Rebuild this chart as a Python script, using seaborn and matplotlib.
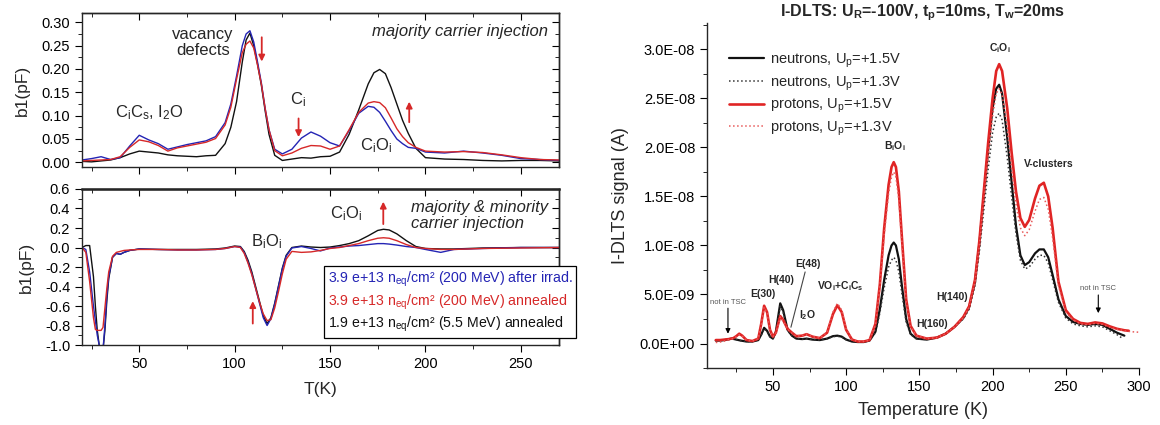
import pandas as pd
import seaborn as sns
import matplotlib.pyplot as plt
from matplotlib.lines import Line2D
from matplotlib.ticker import MultipleLocator, FuncFormatter

# ---------------- left: TSC spectra, top = majority carrier injection ----------------
t_top = [20, 25, 30, 35, 40, 45, 50, 55, 60, 65, 70, 75, 80, 85, 90, 95, 98, 101, 104, 106,
         108, 110, 112, 114, 116, 118, 121, 125, 130, 135, 140, 145, 150, 155, 160, 165, 170,
         173, 176, 179, 182, 185, 188, 191, 195, 200, 210, 220, 230, 240, 250, 260, 270]
top_after = [0.005, 0.008, 0.012, 0.006, 0.010, 0.035, 0.058, 0.048, 0.040, 0.028, 0.033, 0.038,
             0.042, 0.046, 0.055, 0.085, 0.125, 0.185, 0.250, 0.275, 0.282, 0.258, 0.215, 0.170,
             0.115, 0.070, 0.028, 0.018, 0.028, 0.052, 0.065, 0.056, 0.042, 0.035, 0.068, 0.105,
             0.120, 0.118, 0.107, 0.088, 0.068, 0.050, 0.040, 0.032, 0.030, 0.022, 0.020, 0.024,
             0.020, 0.015, 0.008, 0.006, 0.004]
top_ann200 = [0.003, 0.004, 0.005, 0.006, 0.012, 0.032, 0.048, 0.044, 0.036, 0.024, 0.031, 0.035,
              0.039, 0.043, 0.051, 0.080, 0.118, 0.178, 0.235, 0.253, 0.260, 0.245, 0.208, 0.168,
              0.115, 0.070, 0.025, 0.014, 0.020, 0.030, 0.036, 0.035, 0.028, 0.035, 0.070, 0.107,
              0.127, 0.130, 0.128, 0.117, 0.095, 0.072, 0.055, 0.042, 0.032, 0.024, 0.022, 0.023,
              0.021, 0.016, 0.010, 0.006, 0.005]
top_ann55 = [0.002, 0.001, 0.003, 0.005, 0.010, 0.018, 0.024, 0.022, 0.020, 0.016, 0.014, 0.013,
             0.012, 0.014, 0.015, 0.040, 0.075, 0.130, 0.215, 0.262, 0.277, 0.250, 0.210, 0.165,
             0.110, 0.060, 0.015, 0.004, 0.007, 0.010, 0.009, 0.012, 0.013, 0.022, 0.060, 0.112,
             0.168, 0.192, 0.199, 0.190, 0.160, 0.125, 0.090, 0.062, 0.030, 0.010, 0.007, 0.006,
             0.004, 0.003, 0.004, 0.004, 0.003]

# ---------------- left bottom: majority & minority carrier injection ----------------
t_bot = [20, 22, 24, 26, 27, 28, 29, 30, 31, 32, 33, 34, 36, 38, 40, 42, 45, 50, 60, 70, 80,
         90, 95, 100, 103, 105, 107, 109, 111, 113, 115, 117, 119, 121, 123, 125, 127, 130, 135,
         140, 145, 150, 155, 160, 165, 170, 175, 178, 181, 185, 190, 195, 200, 208, 215, 230,
         250, 270]
bot_after = [0.0, -0.02, -0.25, -0.6, -0.75, -0.9, -1.0, -1.05, -1.05, -0.8, -0.5, -0.3, -0.10,
             -0.06, -0.07, -0.05, -0.03, -0.015, -0.02, -0.025, -0.025, -0.02, -0.01, 0.01, 0.005,
             -0.05, -0.15, -0.27, -0.42, -0.57, -0.72, -0.80, -0.73, -0.58, -0.40, -0.22, -0.09,
             -0.005, 0.01, -0.01, -0.035, -0.005, 0.005, 0.015, 0.02, 0.03, 0.04, 0.04, 0.035,
             0.025, 0.01, 0.0, -0.02, -0.05, -0.02, -0.01, 0.0, 0.0]
bot_ann200 = [0.0, -0.05, -0.35, -0.72, -0.84, -0.85, -0.85, -0.85, -0.82, -0.62, -0.42, -0.25,
              -0.09, -0.05, -0.04, -0.03, -0.025, -0.02, -0.02, -0.025, -0.025, -0.02, -0.01, 0.01,
              0.0, -0.06, -0.16, -0.28, -0.42, -0.56, -0.68, -0.75, -0.74, -0.62, -0.45, -0.27,
              -0.12, -0.04, -0.05, -0.045, -0.03, -0.01, 0.0, 0.02, 0.04, 0.07, 0.095, 0.1, 0.095,
              0.07, 0.03, 0.0, -0.01, -0.02, -0.02, -0.01, -0.005, 0.0]
bot_ann55 = [0.0, 0.02, 0.02, -0.3, -0.6, -0.85, -1.0, -1.05, -1.05, -0.85, -0.55, -0.32, -0.1,
             -0.06, -0.07, -0.05, -0.03, -0.015, -0.02, -0.02, -0.02, -0.015, -0.005, 0.015, 0.01,
             -0.04, -0.13, -0.25, -0.40, -0.55, -0.70, -0.78, -0.72, -0.57, -0.39, -0.21, -0.08,
             0.0, 0.015, 0.005, 0.0, 0.005, 0.02, 0.04, 0.07, 0.12, 0.175, 0.187, 0.18, 0.14, 0.07,
             0.01, -0.01, -0.015, -0.015, -0.005, 0.0, 0.0]

legend_left = ["3.9 e+13 n$_{eq}$/cm² (200 MeV) after irrad.",
               "3.9 e+13 n$_{eq}$/cm² (200 MeV) annealed",
               "1.9 e+13 n$_{eq}$/cm² (5.5 MeV) annealed"]

# ---------------- right: I-DLTS, (T [K], signal [1e-9 A]) ----------------
neutrons_15 = [(11, 0.3), (14, 0.3), (17, 0.35), (20, 0.45), (22, 0.5), (25, 0.4), (28, 0.3),
               (32, 0.2), (36, 0.2), (40, 0.35), (42, 0.9), (44, 1.6), (46, 1.3), (48, 0.7),
               (50, 0.5), (52, 1.2), (55, 4.1), (57, 3.4), (60, 1.4), (63, 0.8), (66, 0.5),
               (70, 0.45), (73, 0.5), (77, 0.4), (82, 0.35), (87, 0.5), (91, 0.75), (94, 0.8),
               (97, 0.7), (100, 0.4), (104, 0.2), (108, 0.15), (112, 0.15), (116, 0.3), (120, 1.2),
               (123, 3.5), (126, 6.5), (129, 9.0), (131, 10.0), (132.5, 10.3), (134, 10.0),
               (136, 8.6), (138, 6.0), (141, 2.5), (144, 1.0), (148, 0.5), (155, 0.4), (162, 0.6),
               (168, 1.0), (174, 1.7), (180, 2.6), (184, 3.7), (188, 6.3), (191, 10.2),
               (194, 15.0), (197, 19.8), (200, 24.0), (202.5, 26.0), (204.5, 26.4), (206.5, 25.5),
               (210, 21.0), (213, 16.5), (216, 12.0), (219, 9.0), (222, 8.0), (225, 8.3),
               (229, 9.2), (232, 9.6), (235, 9.6), (238, 8.8), (241, 7.0), (245, 4.5), (250, 2.8),
               (255, 2.2), (260, 2.0), (265, 1.9), (270, 2.0), (275, 1.9), (280, 1.5), (285, 1.1),
               (290, 0.8)]
neutrons_13 = [(11, 0.25), (14, 0.3), (17, 0.35), (20, 0.4), (22, 0.45), (25, 0.4), (28, 0.3),
               (32, 0.2), (36, 0.2), (40, 0.35), (42, 0.85), (44, 1.5), (46, 1.2), (48, 0.7),
               (50, 0.5), (52, 1.1), (55, 3.8), (57, 3.2), (60, 1.3), (63, 0.8), (66, 0.5),
               (70, 0.45), (73, 0.5), (77, 0.4), (82, 0.35), (87, 0.5), (91, 0.7), (94, 0.75),
               (97, 0.65), (100, 0.4), (104, 0.2), (108, 0.15), (112, 0.15), (116, 0.3), (120, 1.1),
               (123, 3.1), (126, 5.7), (129, 7.8), (131, 8.5), (132.5, 8.8), (134, 8.5),
               (136, 7.3), (138, 5.2), (141, 2.2), (144, 0.9), (148, 0.5), (155, 0.4), (162, 0.6),
               (168, 1.0), (174, 1.7), (180, 2.5), (184, 3.5), (188, 5.9), (191, 9.4), (194, 13.6),
               (197, 17.8), (200, 21.5), (202.5, 23.1), (204.5, 23.5), (206.5, 22.8), (210, 19.0),
               (213, 15.0), (216, 11.2), (219, 8.5), (222, 7.6), (225, 7.8), (229, 8.6), (232, 9.0),
               (235, 9.0), (238, 8.2), (241, 6.5), (245, 4.2), (250, 2.6), (255, 2.0), (260, 1.8),
               (265, 1.7), (270, 1.8), (275, 1.7), (280, 1.3), (285, 0.9), (288, 0.6)]
protons_15 = [(11, 0.35), (14, 0.35), (17, 0.4), (20, 0.45), (23, 0.55), (25, 0.75), (27, 1.0),
              (29, 0.8), (32, 0.35), (36, 0.25), (40, 0.5), (42, 2.0), (44, 3.85), (46, 3.2),
              (48, 1.4), (50, 0.7), (52, 1.1), (55, 2.8), (57, 2.4), (60, 1.5), (63, 1.1),
              (66, 0.75), (70, 0.8), (73, 0.95), (77, 0.7), (82, 0.55), (87, 1.1), (91, 3.0),
              (94, 3.9), (97, 3.2), (100, 1.4), (104, 0.4), (108, 0.2), (112, 0.2), (116, 0.35),
              (120, 2.0), (123, 6.0), (126, 11.8), (129, 16.2), (131, 18.0), (132.5, 18.5),
              (134, 18.0), (136, 15.5), (138, 11.0), (141, 4.5), (144, 1.8), (148, 0.8), (155, 0.5),
              (162, 0.6), (168, 1.0), (174, 1.7), (180, 2.7), (184, 3.8), (188, 6.5), (191, 10.5),
              (194, 15.5), (197, 20.5), (200, 25.0), (202.5, 27.8), (204.5, 28.5), (206.5, 27.8),
              (210, 24.0), (213, 19.5), (216, 15.5), (219, 12.8), (222, 11.9), (225, 12.6),
              (229, 14.8), (232, 16.1), (235, 16.4), (238, 15.0), (241, 11.8), (245, 6.3),
              (250, 3.4), (255, 2.5), (260, 2.1), (265, 2.0), (270, 2.15), (275, 2.05), (280, 1.75),
              (285, 1.5), (290, 1.35), (293, 1.3)]
protons_13 = [(11, 0.1), (14, 0.15), (17, 0.25), (20, 0.4), (23, 0.5), (25, 0.7), (27, 0.9),
              (29, 0.75), (32, 0.35), (36, 0.25), (40, 0.5), (42, 1.9), (44, 3.7), (46, 3.1),
              (48, 1.4), (50, 0.7), (52, 1.05), (55, 2.7), (57, 2.3), (60, 1.45), (63, 1.05),
              (66, 0.75), (70, 0.8), (73, 0.95), (77, 0.7), (82, 0.55), (87, 1.15), (91, 3.2),
              (94, 4.1), (97, 3.4), (100, 1.5), (104, 0.4), (108, 0.2), (112, 0.2), (116, 0.35),
              (120, 1.9), (123, 5.7), (126, 11.1), (129, 15.3), (131, 17.0), (132.5, 17.5),
              (134, 17.0), (136, 14.7), (138, 10.4), (141, 4.3), (144, 1.7), (148, 0.8), (155, 0.5),
              (162, 0.6), (168, 1.0), (174, 1.7), (180, 2.6), (184, 3.7), (188, 6.3), (191, 10.0),
              (194, 14.5), (197, 19.0), (200, 23.2), (202.5, 25.5), (204.5, 26.0), (206.5, 25.4),
              (210, 22.0), (213, 17.8), (216, 14.2), (219, 11.8), (222, 11.0), (225, 11.6),
              (229, 13.5), (232, 14.7), (235, 14.9), (238, 13.7), (241, 10.8), (245, 5.9),
              (250, 3.2), (255, 2.4), (260, 2.0), (265, 1.9), (270, 2.05), (275, 1.95), (280, 1.65),
              (285, 1.45), (290, 1.3), (295, 1.2), (300, 1.15)]

sns.set_style("ticks")
plt.rcParams['font.family'] = ['Liberation Sans', 'DejaVu Sans']
plt.rcParams['mathtext.default'] = 'regular'
plt.rcParams['axes.linewidth'] = 1.0
plt.rcParams['xtick.color'] = 'black'
plt.rcParams['ytick.color'] = 'black'

BLUE = '#2424b4'
RED = '#d62828'
BLK = '#111111'

fig = plt.figure(figsize=(11.6, 4.25), dpi=100)
ax_t = fig.add_axes([0.0707, 0.6071, 0.4112, 0.3623])
ax_b = fig.add_axes([0.0707, 0.1882, 0.4112, 0.3671])
ax_r = fig.add_axes([0.6095, 0.1341, 0.3724, 0.8118])

df_top = pd.DataFrame({'T': t_top, 'after': top_after, 'ann200': top_ann200, 'ann55': top_ann55})
df_bot = pd.DataFrame({'T': t_bot, 'after': bot_after, 'ann200': bot_ann200, 'ann55': bot_ann55})

# y tick steps (major, minor) for the two TSC panels
steps = {'top': (0.05, 0.025), 'bot': (0.2, 0.1)}

for ax, df, key in [(ax_t, df_top, 'top'), (ax_b, df_bot, 'bot')]:
    sns.lineplot(data=df, x='T', y='ann55', ax=ax, color=BLK, lw=1.0)
    sns.lineplot(data=df, x='T', y='after', ax=ax, color=BLUE, lw=1.0)
    sns.lineplot(data=df, x='T', y='ann200', ax=ax, color=RED, lw=1.0)
    ax.set_xlim(20, 270)
    ax.xaxis.set_major_locator(MultipleLocator(50))
    ax.xaxis.set_minor_locator(MultipleLocator(25))
    ax.yaxis.set_major_locator(MultipleLocator(steps[key][0]))
    ax.yaxis.set_minor_locator(MultipleLocator(steps[key][1]))
    ax.tick_params(which='both', direction='out', labelsize=10.5)
    ax.tick_params(which='major', length=5)
    ax.tick_params(which='minor', length=3)
    ax.set_ylabel("b1(pF)", fontsize=12.5, labelpad=8)
    ax.set_xlabel("")
    # mirrored ticks pointing inwards on top and right
    top = ax.secondary_xaxis('top')
    top.xaxis.set_major_locator(MultipleLocator(50))
    top.xaxis.set_minor_locator(MultipleLocator(25))
    top.tick_params(which='both', direction='in', labeltop=False)
    top.tick_params(which='major', length=5)
    top.tick_params(which='minor', length=3)
    right = ax.secondary_yaxis('right')
    right.yaxis.set_major_locator(MultipleLocator(steps[key][0]))
    right.yaxis.set_minor_locator(MultipleLocator(steps[key][1]))
    right.tick_params(which='both', direction='in', labelright=False)
    right.tick_params(which='major', length=5)
    right.tick_params(which='minor', length=3)

ax_t.set_ylim(-0.01, 0.32)
ax_t.yaxis.set_major_formatter(FuncFormatter(lambda v, p: f"{v:.2f}"))
ax_t.tick_params(labelbottom=False)
ax_b.set_ylim(-1.0, 0.6)
ax_b.yaxis.set_major_formatter(FuncFormatter(lambda v, p: f"{v:.1f}"))
ax_b.set_xlabel("T(K)", fontsize=12.5, labelpad=8)
ax_b.spines['top'].set_linewidth(1.8)

arrow = dict(arrowstyle='-|>', color=RED, lw=1.3, mutation_scale=9, shrinkA=0, shrinkB=0)
ax_t.text(83.5, 0.257, "vacancy\ndefects", fontsize=12, ha='center', va='center', linespacing=1.05)
ax_t.annotate('', xy=(114.2, 0.216), xytext=(114.2, 0.268), arrowprops=arrow)
ax_t.text(55.2, 0.107, "C$_i$C$_s$, I$_2$O", fontsize=12, ha='center', va='center')
ax_t.text(133, 0.135, "C$_i$", fontsize=12, ha='center', va='center')
ax_t.annotate('', xy=(133.5, 0.054), xytext=(133.5, 0.094), arrowprops=arrow)
ax_t.text(174.3, 0.036, "C$_i$O$_i$", fontsize=12, ha='center', va='center')
ax_t.annotate('', xy=(191.5, 0.130), xytext=(191.5, 0.086), arrowprops=arrow)
ax_t.text(264, 0.281, "majority carrier injection", fontsize=12, style='italic', ha='right', va='center')

ax_b.text(116.8, 0.06, "B$_i$O$_i$", fontsize=12, ha='center', va='center')
ax_b.annotate('', xy=(109.5, -0.55), xytext=(109.5, -0.78), arrowprops=arrow)
ax_b.text(158.5, 0.35, "C$_i$O$_i$", fontsize=12, ha='center', va='center')
ax_b.annotate('', xy=(177.9, 0.47), xytext=(177.9, 0.24), arrowprops=arrow)
ax_b.text(192.5, 0.33, "majority & minority\ncarrier injection", fontsize=12, style='italic',
          ha='left', va='center', linespacing=1.1)

handles = [Line2D([], [], color='none') for _ in legend_left]
leg = ax_b.legend(handles, legend_left, loc='lower left', bbox_to_anchor=(0.508, 0.045),
                  handlelength=0, handletextpad=0, labelcolor=[BLUE, RED, BLK], fontsize=10.2,
                  frameon=True, fancybox=False, edgecolor='black', framealpha=1,
                  borderaxespad=0, labelspacing=0.25, borderpad=0.25)
leg.get_frame().set_linewidth(0.9)

# ---------------- right panel ----------------
curves = [(neutrons_15, BLK, '-', 1.6, "neutrons, U$_p$=+1.5V"),
          (neutrons_13, '#333333', ':', 1.1, "neutrons, U$_p$=+1.3V"),
          (protons_15, '#e02424', '-', 1.9, "protons, U$_p$=+1.5V"),
          (protons_13, '#e85a5a', ':', 1.1, "protons, U$_p$=+1.3V")]
for pts, col, ls, lw, lab in curves:
    d = pd.DataFrame(pts, columns=['T', 'sig'])
    d['sig'] = d['sig'] * 1e-9
    sns.lineplot(data=d, x='T', y='sig', ax=ax_r, color=col, linestyle=ls, lw=lw, label=lab)

ax_r.set_xlim(5, 300)
ax_r.set_ylim(-2.5e-9, 3.27e-8)
ax_r.xaxis.set_major_locator(MultipleLocator(50))
ax_r.xaxis.set_minor_locator(MultipleLocator(25))
ax_r.yaxis.set_major_locator(MultipleLocator(5e-9))
ax_r.yaxis.set_minor_locator(MultipleLocator(2.5e-9))
ax_r.yaxis.set_major_formatter(FuncFormatter(lambda v, p: f"{v:.1E}"))
ax_r.tick_params(which='both', direction='out', labelsize=10.5)
ax_r.tick_params(which='major', length=5)
ax_r.tick_params(which='minor', length=3)
sns.despine(ax=ax_r)
ax_r.set_xlabel("Temperature (K)", fontsize=13, labelpad=6)
ax_r.set_ylabel("I-DLTS signal (A)", fontsize=13, labelpad=8)
ax_r.set_title("I-DLTS: U$_R$=-100V, t$_p$=10ms, T$_w$=20ms", fontsize=11.5,
               fontweight='bold', pad=4)
ax_r.legend(loc='upper left', bbox_to_anchor=(0.02, 0.955), frameon=False, fontsize=10.5,
            handlelength=2.4, handletextpad=0.4, labelspacing=0.3)

lab_kw = dict(fontsize=7.5, fontweight='bold', ha='center', va='center')
ax_r.text(43.4, 5.1e-9, "E(30)", **lab_kw)
ax_r.text(55.4, 6.5e-9, "H(40)", **lab_kw)
ax_r.text(73.6, 8.1e-9, "E(48)", **lab_kw)
ax_r.annotate('', xy=(62.3, 1.66e-9), xytext=(72, 7.3e-9),
              arrowprops=dict(arrowstyle='-', color='#444444', lw=0.8, shrinkA=0, shrinkB=0))
ax_r.text(73.6, 2.9e-9, "I$_2$O", **lab_kw)
ax_r.text(96, 5.9e-9, "VO$_i$+C$_i$C$_s$", **lab_kw)
ax_r.text(133, 2.01e-8, "B$_i$O$_i$", **lab_kw)
ax_r.text(158.9, 2.0e-9, "H(160)", **lab_kw)
ax_r.text(172.5, 4.7e-9, "H(140)", **lab_kw)
ax_r.text(205, 3.01e-8, "C$_i$O$_i$", **lab_kw)
ax_r.text(238.3, 1.83e-8, "V-clusters", **lab_kw)

tsc_arrow = dict(arrowstyle='-|>', color='black', lw=0.8, mutation_scale=7, shrinkA=0, shrinkB=0)
ax_r.text(19.3, 4.2e-9, "not in TSC", fontsize=5.5, color='#555555', ha='center', va='center')
ax_r.annotate('', xy=(19.3, 1.0e-9), xytext=(19.3, 3.6e-9), arrowprops=tsc_arrow)
ax_r.text(272.2, 5.6e-9, "not in TSC", fontsize=5.5, color='#555555', ha='center', va='center')
ax_r.annotate('', xy=(272.2, 3.1e-9), xytext=(272.2, 4.95e-9), arrowprops=tsc_arrow)

fig.savefig("out.png", dpi=100)
